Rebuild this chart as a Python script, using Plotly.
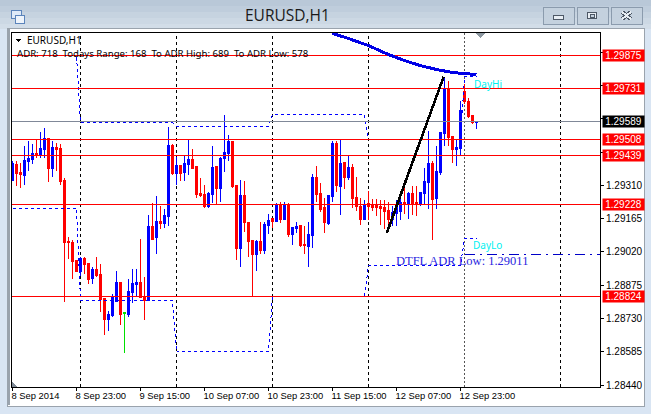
import plotly.graph_objects as go

SYMBOL_TITLE = "EURUSD,H1"
INFO_LINE = "ADR: 718  Todays Range: 168  To ADR High: 689  To ADR Low: 578"

opens = [1.29331,1.29401,1.29366,1.29353,1.29414,1.29422,1.29449,1.29440,1.29466,1.29514,1.29383,1.29475,1.29470,1.29331,1.29065,1.29061,1.28983,1.28935,1.28991,1.28969,1.28904,1.28943,1.28922,1.28817,1.28726,1.28744,1.28804,1.28887,1.28757,1.28748,1.28843,1.28878,1.28887,1.28826,1.28809,1.29131,1.29083,1.29152,1.29144,1.29174,1.29483,1.29361,1.29396,1.29366,1.29401,1.29422,1.29392,1.29274,1.29270,1.29218,1.29270,1.29392,1.29296,1.29427,1.29449,1.29501,1.29309,1.29035,1.29265,1.29148,1.29070,1.29009,1.29065,1.29026,1.29135,1.29165,1.29152,1.29222,1.29161,1.29226,1.29096,1.29122,1.29135,1.29052,1.29043,1.29091,1.29344,1.29274,1.29213,1.29144,1.29261,1.29492,1.29305,1.29409,1.29344,1.29387,1.29257,1.29218,1.29161,1.29231,1.29222,1.29222,1.29218,1.29213,1.29200,1.29161,1.29187,1.29196,1.29235,1.29226,1.29274,1.29235,1.29226,1.29274,1.29322,1.29405,1.29252,1.29366,1.29535,1.29727,1.29522,1.29466,1.29470,1.29718,1.29675,1.29614,1.29583]
highs = [1.29414,1.29414,1.29409,1.29483,1.29505,1.29488,1.29509,1.29544,1.29561,1.29514,1.29505,1.29496,1.29488,1.29340,1.29083,1.29074,1.28987,1.28996,1.28996,1.28974,1.28956,1.28996,1.28969,1.28817,1.28765,1.28839,1.28939,1.28891,1.28757,1.28904,1.28948,1.28948,1.29078,1.28909,1.29183,1.29235,1.29265,1.29218,1.29205,1.29566,1.29488,1.29435,1.29396,1.29440,1.29509,1.29470,1.29396,1.29340,1.29313,1.29279,1.29479,1.29392,1.29435,1.29618,1.29531,1.29505,1.29309,1.29335,1.29331,1.29148,1.29070,1.29070,1.29152,1.29152,1.29187,1.29165,1.29235,1.29239,1.29239,1.29231,1.29126,1.29152,1.29139,1.29135,1.29152,1.29361,1.29392,1.29318,1.29257,1.29265,1.29501,1.29505,1.29509,1.29409,1.29440,1.29401,1.29348,1.29257,1.29244,1.29287,1.29252,1.29252,1.29248,1.29244,1.29239,1.29218,1.29244,1.29265,1.29322,1.29283,1.29309,1.29309,1.29283,1.29387,1.29548,1.29414,1.29479,1.29540,1.29783,1.29766,1.29522,1.29509,1.29675,1.29749,1.29688,1.29614,1.29588]
lows = [1.29331,1.29305,1.29300,1.29313,1.29374,1.29401,1.29431,1.29431,1.29431,1.29326,1.29348,1.29374,1.29313,1.28804,1.28991,1.28904,1.28935,1.28917,1.28926,1.28882,1.28882,1.28913,1.28757,1.28657,1.28678,1.28739,1.28804,1.28704,1.28582,1.28735,1.28800,1.28830,1.28822,1.28722,1.28809,1.29074,1.29013,1.29122,1.29126,1.29131,1.29357,1.29313,1.29331,1.29331,1.29353,1.29379,1.29257,1.29261,1.29213,1.29213,1.29231,1.29226,1.29239,1.29366,1.29418,1.29300,1.28987,1.28956,1.29109,1.29000,1.28826,1.28939,1.29009,1.29013,1.29096,1.29126,1.29152,1.29148,1.29157,1.29087,1.29052,1.29104,1.29043,1.29009,1.28956,1.29039,1.29239,1.29196,1.29104,1.29139,1.29239,1.29279,1.29183,1.29292,1.29335,1.29213,1.29200,1.29139,1.29161,1.29161,1.29200,1.29178,1.29139,1.29122,1.29122,1.29135,1.29135,1.29161,1.29187,1.29165,1.29183,1.29178,1.29222,1.29226,1.29209,1.29074,1.29209,1.29357,1.29483,1.29483,1.29405,1.29396,1.29440,1.29666,1.29605,1.29575,1.29557]
closes = [1.29405,1.29361,1.29357,1.29418,1.29427,1.29449,1.29440,1.29470,1.29514,1.29383,1.29475,1.29466,1.29326,1.29061,1.29061,1.28978,1.28935,1.28991,1.28965,1.28900,1.28943,1.28917,1.28813,1.28726,1.28748,1.28826,1.28887,1.28748,1.28752,1.28848,1.28882,1.28887,1.28822,1.28809,1.29131,1.29074,1.29152,1.29144,1.29178,1.29483,1.29361,1.29396,1.29361,1.29405,1.29422,1.29383,1.29270,1.29265,1.29218,1.29274,1.29387,1.29296,1.29427,1.29453,1.29501,1.29305,1.29035,1.29265,1.29148,1.29065,1.29009,1.29065,1.29026,1.29139,1.29157,1.29152,1.29226,1.29161,1.29226,1.29096,1.29126,1.29131,1.29048,1.29048,1.29096,1.29344,1.29270,1.29205,1.29148,1.29265,1.29492,1.29309,1.29405,1.29344,1.29387,1.29252,1.29218,1.29161,1.29226,1.29218,1.29213,1.29213,1.29209,1.29196,1.29161,1.29192,1.29222,1.29235,1.29226,1.29274,1.29231,1.29226,1.29279,1.29326,1.29405,1.29248,1.29370,1.29540,1.29727,1.29518,1.29466,1.29475,1.29635,1.29675,1.29609,1.29583,1.29588]
assert len(opens) == len(highs) == len(lows) == len(closes) == 117

green_bar = 28

level_prices = [1.29875, 1.29731, 1.29508, 1.29439, 1.29228, 1.28824]
level_labels = ["1.29875", "1.29731", "1.29508", "1.29439", "1.29228", "1.28824"]
bid_price = 1.29589
bid_label = "1.29589"

y_ticks = [1.2844, 1.28585, 1.2873, 1.28875, 1.2902, 1.29165, 1.2931, 1.29455, 1.296, 1.29745, 1.2989]
y_tick_text = ["1.28440", "1.28585", "1.28730", "1.28875", "1.29020", "1.29165", "1.29310", "", "", "", ""]
x_ticks = [0, 16, 32, 48, 64, 80, 96, 112]
x_tick_text = ["8 Sep 2014", "8 Sep 23:00", "9 Sep 15:00", "10 Sep 07:00", "10 Sep 23:00", "11 Sep 15:00", "12 Sep 07:00", "12 Sep 23:00"]
day_separators = [17, 41, 65, 89, 137]
today_separator = 113

upper_x = [0, 16, 17, 40, 41, 64, 65, 88, 89, 112, 113, 116]
upper_y = [1.29875, 1.29875, 1.29583, 1.29583, 1.29566, 1.29566, 1.29618, 1.29618, 1.29508, 1.29508, 1.29783, 1.29783]
lower_x = [0, 16, 17, 40, 41, 64, 65, 88, 89, 112, 113, 116]
lower_y = [1.29211, 1.29211, 1.28809, 1.28809, 1.28585, 1.28585, 1.28826, 1.28826, 1.28961, 1.28961, 1.29078, 1.29078]
ma_x = [80, 84, 89, 94, 98, 102, 106, 110, 116]
ma_y = [1.29971, 1.29949, 1.29918, 1.29879, 1.29853, 1.29831, 1.29814, 1.29801, 1.29792]
trend_x = [93.6, 107.8]
trend_y = [1.29104, 1.29783]
adr_low_price = 1.29011
adr_low_start = 113

X_RANGE = [-0.125, 146.875]
Y_RANGE = [1.284323, 1.299729]
W, H = 651, 414
L, T, R, B = 12, 33, 600, 387
BLUE = "#0000ff"
RED = "#ff0000"

def px(x):
    return (x - L) / (R - L)

def py(y):
    return 1 - (y - T) / (B - T)

def rect(x0, y0, x1, y1, fill, line=None, lw=0):
    return dict(type="rect", xref="paper", yref="paper", x0=px(x0), x1=px(x1), y0=py(y0), y1=py(y1),
                fillcolor=fill, line=dict(color=line or fill, width=lw), layer="below")

fig = go.Figure()

shapes = []
# window chrome
strips = [(0, 6, "#b9c8d8"), (6, 12, "#bfcddc"), (12, 18, "#c6d3e0"), (18, 24, "#ccd8e4"), (24, 29, "#d2dde8")]
for y0, y1, c in strips:
    shapes.append(rect(0, y0, W, y1, c))
shapes.append(rect(0, 29, W, H, "#d9e5f3"))
shapes.append(rect(7, 28, 644, 406, "#ffffff", "#9aa3ad", 1))
shapes.append(rect(8, 29, 643, 405, "#ffffff"))
shapes.append(rect(8, 29, 10, 405, "#9aa3ad"))
# window buttons
for x0 in (543, 577, 611):
    shapes.append(dict(type="rect", xref="paper", yref="paper", x0=px(x0), x1=px(x0 + 31.5), y0=py(7.5), y1=py(24.5),
                       fillcolor="#c4d1de", line=dict(color="#8b9bad", width=1), layer="below"))
shapes.append(rect(553.5, 15.5, 563.5, 19.5, "#e8eef4", "#4d5866", 1))
shapes.append(rect(587.5, 12.5, 596.5, 18.5, "#e8eef4", "#4d5866", 1))
shapes.append(rect(590, 14, 594, 17, "#c4d1de", "#4d5866", 1))
for w, c in ((4, "#4d5866"), (2, "#e8eef4")):
    for a, b in ((622, 631), (631, 622)):
        shapes.append(dict(type="line", xref="paper", yref="paper", x0=px(a), x1=px(b), y0=py(12), y1=py(19),
                           line=dict(color=c, width=w), layer="below"))
# window icon
shapes.append(rect(11, 10, 21, 18, "#dfeaf8", "#5b84bb", 1))
shapes.append(rect(15, 15, 24, 23, "#eef4fb", "#5b84bb", 1))
# shift marker and corner marker
shapes.append(dict(type="path", xref="paper", yref="paper", layer="above",
                   path=f"M {px(476)} {py(33)} L {px(485)} {py(33)} L {px(480.5)} {py(38)} Z",
                   fillcolor="#8c97a0", line=dict(width=0)))
shapes.append(dict(type="path", xref="paper", yref="paper", layer="above",
                   path=f"M {px(12)} {py(382)} L {px(17)} {py(387)} L {px(12)} {py(387)} Z",
                   fillcolor="#7f8a96", line=dict(width=0)))
# marker in front of the symbol name
shapes.append(dict(type="path", xref="paper", yref="paper", layer="above",
                   path=f"M {px(15)} {py(38.5)} L {px(22)} {py(38.5)} L {px(18.5)} {py(42.5)} Z",
                   fillcolor="#000000", line=dict(width=0)))
# day separators
for d in day_separators:
    shapes.append(dict(type="line", xref="x", yref="paper", x0=d, x1=d, y0=0, y1=1,
                       line=dict(color="#000000", width=1, dash="3px,3px"), layer="below"))
shapes.append(dict(type="line", xref="x", yref="paper", x0=today_separator, x1=today_separator, y0=0, y1=1,
                   line=dict(color="#555555", width=1, dash="2px,2px"), layer="below"))

fig.add_trace(go.Scatter(x=upper_x, y=upper_y, mode="lines", line=dict(color=BLUE, width=1, dash="3px,3px")))
fig.add_trace(go.Scatter(x=lower_x, y=lower_y, mode="lines", line=dict(color=BLUE, width=1, dash="3px,3px")))
fig.add_trace(go.Scatter(x=[adr_low_start, X_RANGE[1]], y=[adr_low_price, adr_low_price], mode="lines",
                         line=dict(color="#0000c8", width=1, dash="10px,5px,2px,5px")))

for p in level_prices:
    fig.add_trace(go.Scatter(x=X_RANGE, y=[p, p], mode="lines", line=dict(color=RED, width=1)))
fig.add_trace(go.Scatter(x=X_RANGE, y=[bid_price, bid_price], mode="lines", line=dict(color="#808898", width=1)))

idx = [i for i in range(len(opens)) if i != green_bar]
fig.add_trace(go.Candlestick(
    x=idx,
    open=[opens[i] for i in idx], high=[highs[i] for i in idx],
    low=[lows[i] for i in idx], close=[closes[i] for i in idx],
    whiskerwidth=0,
    increasing=dict(line=dict(color=BLUE, width=1), fillcolor=BLUE),
    decreasing=dict(line=dict(color=RED, width=1), fillcolor=RED),
))
fig.add_trace(go.Candlestick(
    x=[green_bar], open=[opens[green_bar]], high=[highs[green_bar]],
    low=[lows[green_bar]], close=[closes[green_bar]],
    whiskerwidth=0,
    increasing=dict(line=dict(color="#00e000", width=1), fillcolor="#00e000"),
    decreasing=dict(line=dict(color="#00e000", width=1), fillcolor="#00e000"),
))

fig.add_trace(go.Scatter(x=ma_x, y=ma_y, mode="lines", line=dict(color="#0000e6", width=3)))
fig.add_trace(go.Scatter(x=trend_x, y=trend_y, mode="lines", line=dict(color="#000000", width=2.6)))

annotations = []
def label(x, y, text, color="#000000", size=10, family="Noto Sans", xanchor="left", **kw):
    annotations.append(dict(xref="paper", yref="paper", x=px(x), y=py(y), text=text, showarrow=False,
                            xanchor=xanchor, yanchor="middle", font=dict(color=color, size=size, family=family),
                            borderpad=0, borderwidth=0, **kw))

label(27, 40, SYMBOL_TITLE, size=10)
label(17, 54, INFO_LINE, size=9.6)
label(287, 15.5, SYMBOL_TITLE, color="#1a1a1a", size=15.5, family="Open Sans", xanchor="center")
label(474, 84, "DayHi", color="#00f0f0", size=10)
label(473, 245, "DayLo", color="#00f0f0", size=10)
label(396, 261, "DTFL ADR Low: 1.29011", color="#2a1fe0", size=12.5, family="Liberation Serif")
for p, t in zip(level_prices, level_labels):
    annotations.append(dict(xref="paper", yref="y", x=px(602), y=p, text=t, showarrow=False,
                            xanchor="left", yanchor="middle", width=41, height=11, align="center",
                            bgcolor=RED, borderpad=0, font=dict(color="#ffffff", size=10, family="Liberation Sans")))
annotations.append(dict(xref="paper", yref="y", x=px(602), y=bid_price, text=bid_label, showarrow=False,
                        xanchor="left", yanchor="middle", width=41, height=11, align="center",
                        bgcolor="#000000", borderpad=0, font=dict(color="#ffffff", size=10, family="Liberation Sans")))

fig.update_layout(
    width=W, height=H, autosize=False,
    margin=dict(l=L, r=W - R, t=T, b=H - B, pad=0, autoexpand=False),
    paper_bgcolor="#d9e5f3", plot_bgcolor="rgba(0,0,0,0)",
    showlegend=False, boxgap=0.5, hovermode=False,
    shapes=shapes, annotations=annotations,
    font=dict(family="Liberation Sans", size=10, color="#000000"),
    xaxis=dict(range=X_RANGE, tickmode="array", tickvals=x_ticks, ticktext=x_tick_text,
               ticks="outside", ticklen=3, tickcolor="#000000", showgrid=False, zeroline=False,
               showline=True, linecolor="#000000", linewidth=1, mirror=True, automargin=False,
               tickangle=0, rangeslider=dict(visible=False), ticklabelposition="outside right",
               ticklabelshift=-2,
               tickfont=dict(size=9.4, family="Liberation Sans", color="#000000")),
    yaxis=dict(range=Y_RANGE, side="right", tickmode="array", tickvals=y_ticks, ticktext=y_tick_text,
               ticks="outside", ticklen=3, tickcolor="#000000", showgrid=False, zeroline=False,
               showline=True, linecolor="#000000", linewidth=1, mirror=True, automargin=False,
               tickfont=dict(size=10, family="Liberation Sans", color="#000000")),
)

post = """
document.body.style.margin='0';
document.documentElement.style.overflow='hidden';
var s=document.createElement('style');
s.textContent='svg path{shape-rendering:crispEdges !important;}';
document.head.appendChild(s);
"""
fig.write_html("out.html", config=dict(displayModeBar=False), post_script=post)
